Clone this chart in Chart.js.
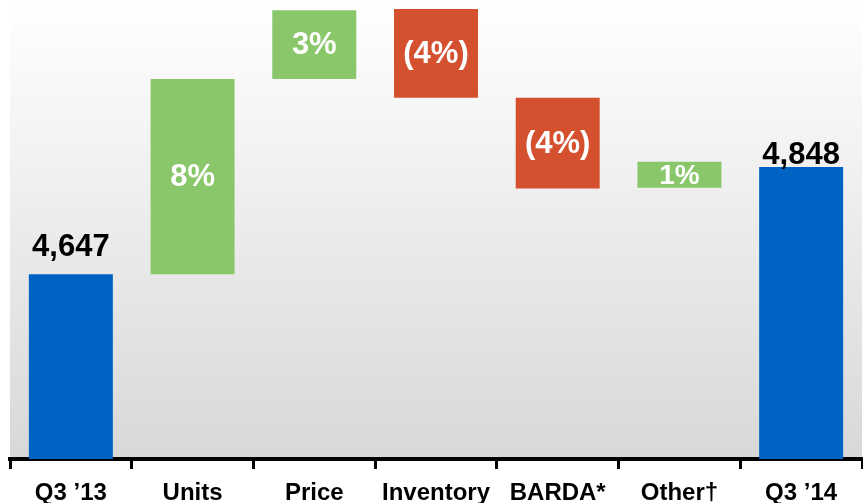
<!DOCTYPE html>
<html>
<head>
<meta charset="utf-8">
<script src="https://cdn.jsdelivr.net/npm/chart.js@4/dist/chart.umd.min.js"></script>
<style>
  body { margin: 0; background: #fff; }
  canvas { display: block; }
</style>
</head>
<body>
<canvas id="chart" width="863" height="503"></canvas>
<script>
const categories = ['Q3 \u201913', 'Units', 'Price', 'Inventory', 'BARDA*', 'Other\u2020', 'Q3 \u201914']
const barStarts = [4301, 4647, 5013, 5144, 4978, 4809, 4301]
const barEnds = [4647, 5013, 5142, 4978, 4808, 4858, 4848]
const barLabels = ['4,647', '8%', '3%', '(4%)', '(4%)', '1%', '4,848']
const barKinds = ['total', 'up', 'up', 'down', 'down', 'up', 'total']

const kindColors = { total: '#0062C3', up: '#89C76A', down: '#D4502E' }
const font = '"Liberation Sans", Arial, sans-serif'

// gray gradient behind the bars
const panelBg = {
    id: 'panelBg',
    beforeDraw(chart) {
        const { ctx, chartArea } = chart
        const g = ctx.createLinearGradient(0, 0, 0, chartArea.bottom)
        g.addColorStop(0, '#ffffff')
        g.addColorStop(1, '#d8d8d8')
        ctx.save()
        ctx.fillStyle = g
        ctx.fillRect(chartArea.left, 0, chartArea.right - chartArea.left, chartArea.bottom)
        ctx.restore()
    }
}

// totals above the bar, steps inside the bar
const barText = {
    id: 'barText',
    afterDatasetsDraw(chart, args, opts) {
        const { ctx } = chart
        const meta = chart.getDatasetMeta(0)
        ctx.save()
        ctx.textAlign = 'center'
        meta.data.forEach((bar, i) => {
            const top = Math.min(bar.y, bar.base)
            if (barKinds[i] === 'total') {
                ctx.fillStyle = '#000'
                ctx.font = 'bold 31px ' + font
                ctx.textBaseline = 'alphabetic'
                ctx.fillText(barLabels[i], bar.x, top - opts.gaps[i])
            } else {
                ctx.fillStyle = '#fff'
                ctx.font = 'bold ' + (Math.abs(bar.base - bar.y) < 40 ? 28 : 31) + 'px ' + font
                ctx.textBaseline = 'middle'
                ctx.fillText(barLabels[i], bar.x, (bar.y + bar.base) / 2 + 1)
            }
        })
        ctx.restore()
    }
}

new Chart(document.getElementById('chart'), {
    type: 'bar',
    data: {
        labels: categories,
        datasets: [{
            data: barStarts.map((s, i) => [s, barEnds[i]]),
            backgroundColor: barKinds.map(k => kindColors[k]),
            borderWidth: 0,
            barPercentage: 0.69,
            categoryPercentage: 1
        }]
    },
    options: {
        responsive: false,
        animation: false,
        layout: { padding: { left: 10, right: 1, top: 0, bottom: -14 } },
        plugins: {
            legend: { display: false },
            tooltip: { enabled: false },
            barText: { gaps: [18, 0, 0, 0, 0, 0, 3] }
        },
        scales: {
            y: { display: false, min: 4301, max: 5161 },
            x: {
                border: { display: true, color: '#000', width: 4 },
                grid: { drawOnChartArea: false, drawTicks: true, tickLength: 10, color: '#000', lineWidth: 3 },
                ticks: {
                    color: '#000',
                    padding: 9,
                    font: { family: font, size: 24, weight: 'bold', lineHeight: 1.25 }
                }
            }
        }
    },
    plugins: [panelBg, barText]
})
</script>
</body>
</html>
